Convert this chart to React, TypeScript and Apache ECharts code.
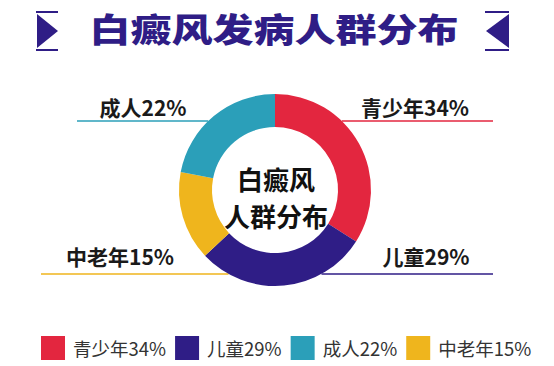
import React, { useEffect, useRef } from "react";
import * as echarts from "echarts";

const categories = ["青少年", "儿童", "中老年", "成人"];
const values = [34, 29, 15, 22];
const colors = ["#e3263f", "#2f1d86", "#efb51d", "#2b9fb9"];
const legendOrder = ["青少年", "儿童", "成人", "中老年"];
const titleText = "白癜风发病人群分布";
const centerLines = ["白癜风", "人群分布"];

const CX = 275;
const CY = 190;
const R_OUT = 96;
const R_IN = 63;
const NAVY = "#2f1d86";
const FONT = '"Noto Sans CJK SC", "Noto Sans", sans-serif';

// label placement per data index: side, line y offset from centre, line end x, text centre x, text y offset above line
const labelPlacement = [
  { side: 1, dy: -69, endX: 493, textX: 415, textUp: 14 },
  { side: 1, dy: 84, endX: 493, textX: 426, textUp: 18 },
  { side: -1, dy: 84, endX: 41, textX: 120, textUp: 18 },
  { side: -1, dy: -69, endX: 77, textX: 143, textUp: 14 },
];

export default function App() {
  const ref = useRef<HTMLDivElement>(null);
  useEffect(() => {
    if (!ref.current) return;
    const chart = echarts.init(ref.current, null, { renderer: "svg" });
    const valueOf = (name: string) => values[categories.indexOf(name)];
    chart.setOption({
      animation: false,
      backgroundColor: "#ffffff",
      color: colors,
      legend: {
        data: legendOrder,
        left: 36,
        top: 331,
        orient: "horizontal",
        icon: "rect",
        itemWidth: 24,
        itemHeight: 24,
        itemGap: 9,
        formatter: (name: string) => `${name}${valueOf(name)}%`,
        textStyle: {
          fontSize: 18.5,
          color: "#333333",
          fontFamily: FONT,
          padding: [0, 0, 0, 3],
        },
      },
      graphic: [
        {
          type: "text",
          x: 274,
          y: 28,
          scaleY: 0.8,
          style: {
            text: titleText,
            align: "center",
            verticalAlign: "middle",
            fontSize: 41,
            fontWeight: 900,
            fontFamily: FONT,
            fill: NAVY,
          },
        },
        {
          type: "polygon",
          shape: { points: [[37, 14], [58, 31], [37, 48]] },
          style: { fill: NAVY },
        },
        { type: "line", shape: { x1: 36, y1: 12, x2: 58, y2: 12 }, style: { stroke: NAVY, lineWidth: 2 } },
        { type: "line", shape: { x1: 36, y1: 50, x2: 58, y2: 50 }, style: { stroke: NAVY, lineWidth: 2 } },
        {
          type: "polygon",
          shape: { points: [[509, 14], [486, 31], [509, 48]] },
          style: { fill: NAVY },
        },
        { type: "line", shape: { x1: 485, y1: 12, x2: 509, y2: 12 }, style: { stroke: NAVY, lineWidth: 2 } },
        { type: "line", shape: { x1: 485, y1: 50, x2: 509, y2: 50 }, style: { stroke: NAVY, lineWidth: 2 } },
        ...centerLines.map((t, i) => ({
          type: "text",
          x: CX + 1,
          y: CY - 12 + i * 37,
          z: 10,
          style: {
            text: t,
            align: "center",
            verticalAlign: "middle",
            fontSize: 26,
            fontWeight: "bold",
            fontFamily: FONT,
            fill: "#111111",
          },
        })),
      ],
      series: [
        {
          type: "pie",
          center: [CX, CY],
          radius: [R_IN, R_OUT],
          startAngle: 90,
          clockwise: true,
          avoidLabelOverlap: false,
          data: categories.map((c, i) => ({ name: c, value: values[i] })),
          label: {
            show: true,
            position: "outside",
            formatter: "{b}{c}%",
            fontSize: 21,
            fontWeight: "bold",
            fontFamily: FONT,
            color: "#1a1a1a",
          },
          labelLine: {
            show: true,
            lineStyle: { width: 1.5 },
          },
          labelLayout: (params: any) => {
            const p = labelPlacement[params.dataIndex];
            const lineY = CY + p.dy;
            const ringX = CX + p.side * Math.sqrt(R_OUT * R_OUT - p.dy * p.dy);
            return {
              x: p.textX,
              y: lineY - p.textUp,
              align: "center",
              verticalAlign: "middle",
              labelLinePoints: [
                [ringX, lineY],
                [(ringX + p.endX) / 2, lineY],
                [p.endX, lineY],
              ],
            };
          },
          emphasis: { disabled: true },
        },
      ],
    });
    return () => chart.dispose();
  }, []);
  return (
    <div
      ref={ref}
      style={{ position: "absolute", left: 0, top: 0, width: 554, height: 366 }}
    />
  );
}
